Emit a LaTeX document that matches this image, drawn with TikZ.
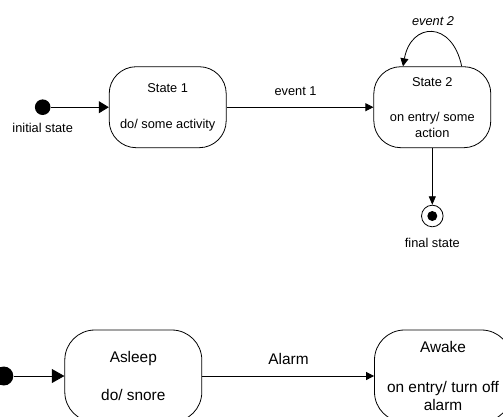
\documentclass[tikz,border=0pt]{standalone}
\usepackage{fontspec}
\setmainfont{Liberation Sans}
\usetikzlibrary{arrows.meta}

\begin{document}
\begin{tikzpicture}[x=1pt,y=-1pt,line width=0.8pt,
    small/.style={font=\fontsize{12.8}{15.5}\selectfont},
    big/.style={font=\fontsize{15.4}{18}\selectfont},
    state node/.style={small,draw,align=center,rounded corners=27pt,inner sep=0pt,minimum width=117pt,minimum height=81pt},
    big state/.style={big,draw,align=center,rounded corners=30pt,inner sep=0pt,minimum width=137pt,minimum height=92pt},
    start dot/.style={circle,fill,inner sep=0pt,minimum size=15.6pt},
    tip/.style={-{Triangle[length=8pt,width=8pt]}}]

    \useasboundingbox (0,0) rectangle (503,416);

    % upper diagram
    \node[start dot]  (1) at (42.7,107.2) {};
    \node[state node] (2) at (167.7,107.2) {State 1\\[20pt]do/ some activity};
    \node[state node] (3) at (432.3,107.2) {State 2\\[20pt]on entry/ some\\action};
    \node[circle,draw,inner sep=0pt,minimum size=21.6pt] (4) at (432.3,216) {};
    \node[circle,fill,inner sep=0pt,minimum size=10pt] (5) at (4) {};

    \node[small] (6) at (42.7,128) {initial state};
    \node[small] (7) at (295.5,90.7) {event 1};
    \node[small] (8) at (433,20.7) {\itshape event 2};
    \node[small] (9) at (432.3,243) {final state};

    \draw[-{Triangle[length=10pt,width=12pt]}] (1) -- (2);
    \draw[tip] (2) -- (3);
    \draw[tip] ([xshift=29.4pt]3.north) .. controls (452,20) and (411,22) .. ([xshift=-29.3pt]3.north);
    \draw[-{Triangle[length=8.5pt,width=7pt]}] (3) -- (4);

    % lower diagram
    \node[start dot,minimum size=19pt] (10) at (3.8,376) {};
    \node[big state] (11) at (133.3,376) {Asleep\\[20pt]do/ snore};
    \node[big state] (12) at (443,376) {Awake\\[22pt]on entry/ turn off\\alarm};
    \node[big] (13) at (288.5,359) {Alarm};

    \draw[-{Triangle[length=12.6pt,width=14pt]}] (10) -- (11);
    \draw[tip] (11) -- (12);

\end{tikzpicture}
\end{document}
